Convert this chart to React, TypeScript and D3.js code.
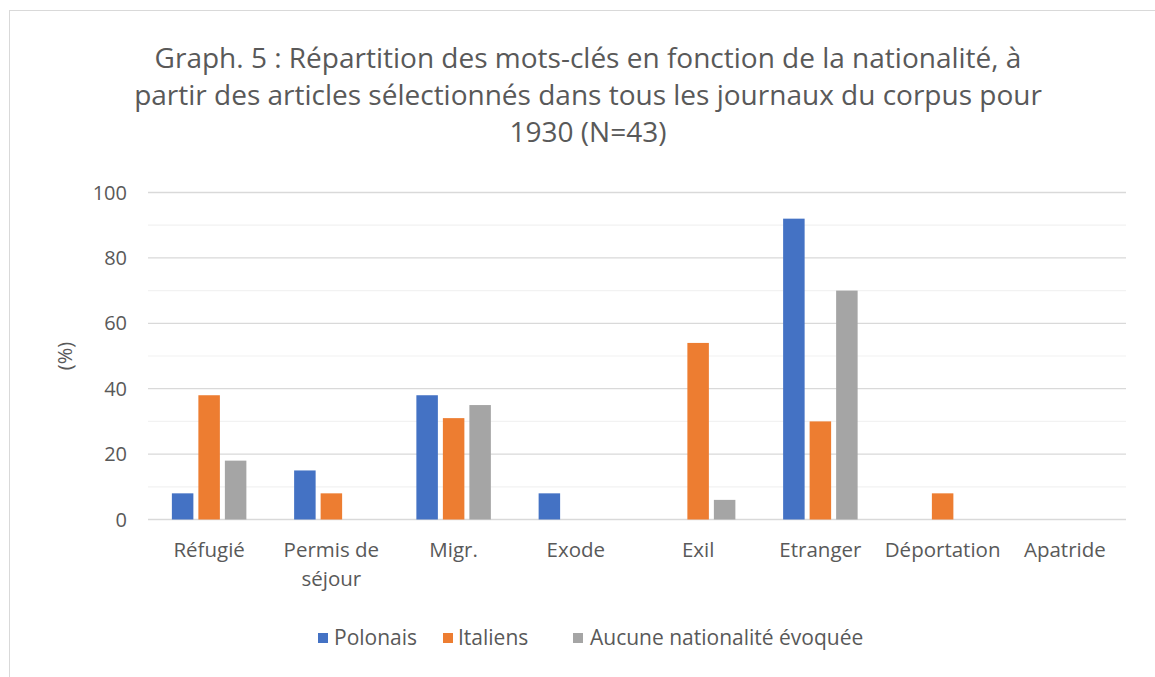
import React from "react";
import * as d3 from "d3";

const categories = ["Réfugié", "Permis de séjour", "Migr.", "Exode", "Exil", "Etranger", "Déportation", "Apatride"];
const seriesNames = ["Polonais", "Italiens", "Aucune nationalité évoquée"];
const polonais = [8, 15, 38, 8, 0, 92, 0, 0];
const italiens = [38, 8, 31, 0, 54, 30, 8, 0];
const aucune = [18, 0, 35, 0, 6, 70, 0, 0];
const colors = ["#4472C4", "#ED7D31", "#A5A5A5"];
const yTicks = [0, 20, 40, 60, 80, 100];
const minorTicks = [10, 30, 50, 70, 90];
const titleLines = [
  "Graph. 5 : Répartition des mots-clés en fonction de la nationalité, à",
  "partir des articles sélectionnés dans tous les journaux du corpus pour",
  "1930 (N=43)",
];

const W = 1155;
const H = 677;
const left = 148;
const right = 1126;
const top = 192.5;
const bottom = 519.5;
const font = "'Open Sans', 'Noto Sans', sans-serif";
const textColor = "#595959";

export default function App() {
  const series = [polonais, italiens, aucune];
  const x = d3.scaleBand<string>().domain(categories).range([left, right]);
  const y = d3.scaleLinear().domain([0, 100]).range([bottom, top]);
  const barW = 21.5;
  const gap = 5;
  const groupW = 3 * barW + 2 * gap;

  return (
    <svg
      width={W}
      height={H}
      style={{ position: "absolute", left: 0, top: 0, background: "#fff" }}
      fontFamily={font}
    >
      <rect x={9.5} y={10.5} width={W + 20} height={H + 20} fill="#fff" stroke="#d9d9d9" strokeWidth={1} />
      {titleLines.map((t, i) => (
        <text key={i} x={588} y={68 + i * 37} textAnchor="middle" fontSize={28} fill={textColor}>
          {t}
        </text>
      ))}
      {minorTicks.map((t) => (
        <line key={"m" + t} x1={left} x2={right} y1={y(t)} y2={y(t)} stroke="#f2f2f2" strokeWidth={1.2} />
      ))}
      {yTicks.map((t) => (
        <g key={t}>
          <line x1={left} x2={right} y1={y(t)} y2={y(t)} stroke="#d9d9d9" strokeWidth={1.3} />
          <text x={127} y={y(t) + 7} textAnchor="end" fontSize={20} fill={textColor}>
            {t}
          </text>
        </g>
      ))}
      <text
        transform={`translate(72, ${(top + bottom) / 2}) rotate(-90)`}
        textAnchor="middle"
        fontSize={20}
        fill={textColor}
      >
        (%)
      </text>
      {categories.map((c, ci) => {
        const x0 = (x(c) as number) + x.bandwidth() / 2 - groupW / 2;
        return (
          <g key={c}>
            {series.map((s, si) =>
              s[ci] > 0 ? (
                <rect
                  key={si}
                  x={x0 + si * (barW + gap)}
                  y={y(s[ci])}
                  width={barW}
                  height={y(0) - y(s[ci])}
                  fill={colors[si]}
                />
              ) : null
            )}
          </g>
        );
      })}
      {categories.map((c) => {
        const cx = (x(c) as number) + x.bandwidth() / 2;
        const parts = c === "Permis de séjour" ? ["Permis de", "séjour"] : [c];
        return (
          <text key={c} x={cx} textAnchor="middle" fontSize={20.5} fill={textColor}>
            {parts.map((p, i) => (
              <tspan key={i} x={cx} y={557 + i * 29}>
                {p}
              </tspan>
            ))}
          </text>
        );
      })}
      {(() => {
        const items = [
          { sx: 318, tx: 334 },
          { sx: 443, tx: 458 },
          { sx: 573, tx: 590 },
        ];
        return seriesNames.map((n, i) => (
          <g key={n}>
            <rect x={items[i].sx} y={633} width={10} height={10} fill={colors[i]} />
            <text x={items[i].tx} y={645} fontSize={21} fill={textColor}>
              {n}
            </text>
          </g>
        ));
      })()}
    </svg>
  );
}
